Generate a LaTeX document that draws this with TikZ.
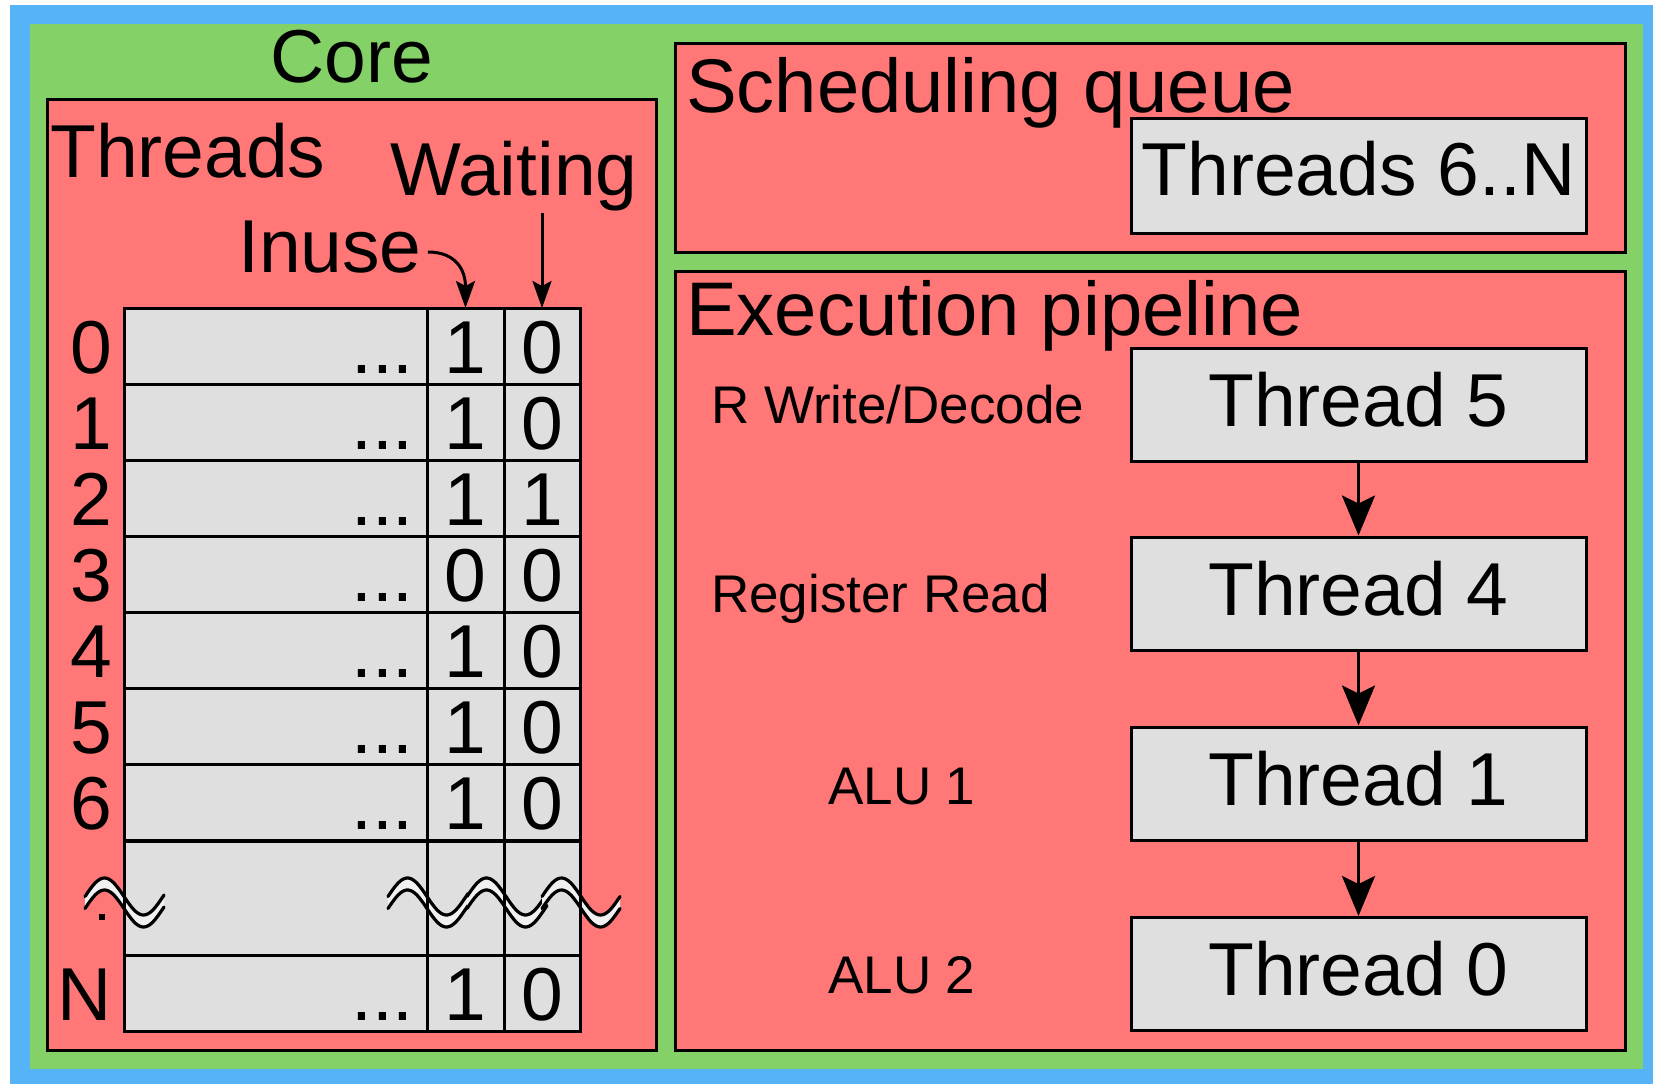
\documentclass[tikz,border=0pt]{standalone}
\usepackage{fontspec}
\setmainfont{Liberation Sans}
\usetikzlibrary{arrows.meta}
\definecolor{frameblue}{RGB}{86,180,246}
\definecolor{coregreen}{RGB}{132,209,104}
\definecolor{unitred}{RGB}{255,119,119}
\definecolor{cellgray}{RGB}{223,223,223}
\tikzset{
  bigtext/.style={font=\fontsize{75}{90}\selectfont},
  titletext/.style={font=\fontsize{76}{91}\selectfont},
  smalltext/.style={font=\fontsize{53}{63}\selectfont},
  unitbox/.style={fill=unitred, draw=black, line width=3pt},
  tabcell/.style={draw=black, fill=cellgray, line width=3pt, inner sep=0pt, outer sep=0pt,
    anchor=north west, minimum height=76.14pt, text height=65pt, text depth=11pt, bigtext},
  threadbox/.style={draw=black, fill=cellgray, line width=3pt, inner sep=0pt,
    minimum width=455pt, minimum height=113pt, text height=78pt, text depth=35pt, bigtext},
  lbl/.style={inner sep=0pt, anchor=base west},
  flow/.style={line width=3pt, -{Stealth[length=40pt,width=33pt,inset=8pt]}},
  pointer/.style={line width=3pt, -{Stealth[length=27pt,width=19pt,inset=5pt]}},
  brk/.style={line width=3.2pt, line cap=round}
}
\begin{document}
\begin{tikzpicture}[x=1pt, y=-1pt]
\useasboundingbox (0,0) rectangle (1653,1084);
% frame and core background
\fill[white] (0,0) rectangle (1653,1084);
\fill[frameblue] (10,5) rectangle (1653,1084);
\fill[coregreen] (30,24) rectangle (1643,1069);
\node[bigtext, inner sep=0pt, anchor=base] (core) at (351.5,82) {Core};

% thread table unit
\draw[unitbox] (47,99) rectangle (656,1050);
\node[lbl, bigtext] (threads) at (50,177) {Threads};
\node[lbl, bigtext] (waiting) at (390,195) {Waiting};
\node[lbl, bigtext] (inuse) at (238,272) {Inuse};

\foreach \k/\u/\w in {0/1/0,1/1/0,2/1/1,3/0/0,4/1/0,5/1/0,6/1/0} {
  \pgfmathsetmacro\rowtop{308+76.14*\k}
  \node[tabcell, minimum width=303pt] (n\k) at (124,\rowtop) {};
  \node[tabcell, minimum width=77pt] (u\k) at (427,\rowtop) {\u};
  \node[tabcell, minimum width=76pt] (w\k) at (504,\rowtop) {\w};
  \node[lbl, anchor=base east, bigtext] (d\k) at (414,\rowtop+65.14) {...};
  \node[lbl, anchor=base east, bigtext] (r\k) at (112,\rowtop+65.14) {\k};
}
% elided rows
\node[tabcell, minimum width=303pt, minimum height=114pt] (ngap) at (124,841) {};
\node[tabcell, minimum width=77pt, minimum height=114pt] (ugap) at (427,841) {};
\node[tabcell, minimum width=76pt, minimum height=114pt] (wgap) at (504,841) {};
% last row
\node[tabcell, minimum width=303pt] (nN) at (124,955) {};
\node[tabcell, minimum width=77pt] (uN) at (427,955) {1};
\node[tabcell, minimum width=76pt] (wN) at (504,955) {0};
\node[lbl, anchor=base east, bigtext] (dN) at (414,1020) {...};
\node[lbl, anchor=base east, bigtext] (rN) at (112,1020) {N};

% break marks
\fill (99,914) rectangle (105,920);
\foreach \a/\b in {85/164, 388/468, 467/547, 542/620} {
  \fill[cellgray!45!white] plot[domain=\a:\b, samples=40] (\x,{896.5-18.5*sin(4.6154*(\x-\a))})
     -- plot[domain=\b:\a, samples=40] (\x,{908.5-18.5*sin(4.6154*(\x-\a))}) -- cycle;
  \draw[brk] plot[domain=\a:\b, samples=40] (\x,{896.5-18.5*sin(4.6154*(\x-\a))});
  \draw[brk] plot[domain=\a:\b, samples=40] (\x,{908.5-18.5*sin(4.6154*(\x-\a))});
}
\draw[line width=3pt] (ngap.north west) -- (ngap.south west);
\draw[line width=3pt] (ugap.north west) -- (ugap.south west);
\draw[line width=3pt] (wgap.north west) -- (wgap.south west);
\draw[line width=3pt] (wgap.north east) -- (wgap.south east);

% column pointers
\draw[pointer] ([xshift=6pt,yshift=20pt]inuse.base east) .. controls +(28pt,0pt) and +(0pt,38pt) .. (u0.north);
\coordinate (wstart) at (542,213);
\draw[pointer] (wstart) -- (w0.north);

% scheduling queue
\draw[unitbox] (675,43) rectangle (1625,252);
\node[lbl, titletext] (schedq) at (686,112) {Scheduling queue};
\node[threadbox, minimum height=115pt, text height=77pt, text depth=38pt] (queued) at (1358.5,175.5) {Threads 6..N};

% execution pipeline
\draw[unitbox] (675,271) rectangle (1625,1050);
\node[lbl, titletext] (execp) at (686,335) {Execution pipeline};
\node[lbl, smalltext] (s1) at (711,423) {R Write/Decode};
\node[lbl, smalltext] (s2) at (711,612) {Register Read};
\node[lbl, smalltext] (s3) at (828,804) {ALU 1};
\node[lbl, smalltext] (s4) at (828,993) {ALU 2};
\node[threadbox] (t5) at (1358.5,404.5) {Thread 5};
\node[threadbox] (t4) at (1358.5,593.5) {Thread 4};
\node[threadbox] (t1) at (1358.5,783.5) {Thread 1};
\node[threadbox] (t0) at (1358.5,974) {Thread 0};
\draw[flow] (t5.south) -- (t4.north);
\draw[flow] (t4.south) -- (t1.north);
\draw[flow] (t1.south) -- (t0.north);
\end{tikzpicture}
\end{document}
